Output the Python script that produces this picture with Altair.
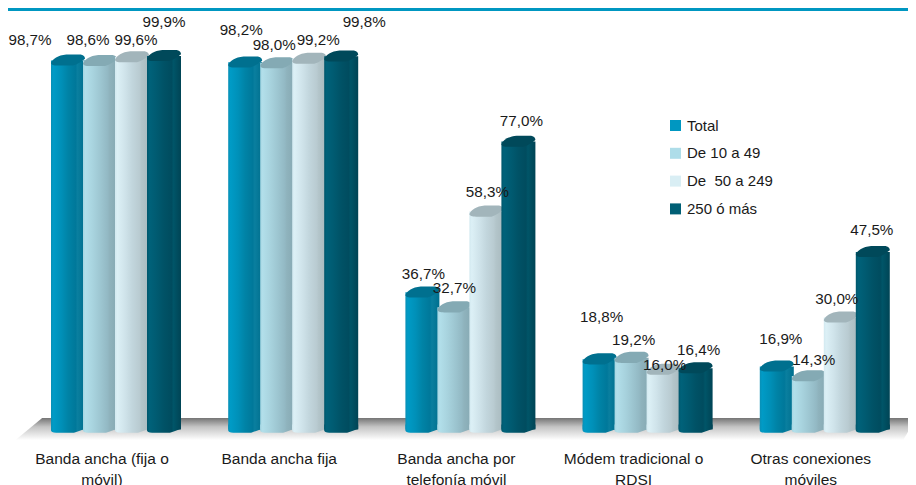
import altair as alt
import pandas as pd

categories = ["Banda ancha (fija o móvil)", "Banda ancha fija", "Banda ancha por telefonía móvil",
              "Módem tradicional o RDSI", "Otras conexiones móviles"]
cat_line1 = ["Banda ancha (fija o", "Banda ancha fija", "Banda ancha por", "Módem tradicional o", "Otras conexiones"]
cat_line2 = ["móvil)", "", "telefonía móvil", "RDSI", "móviles"]
series = ["Total", "De 10 a 49", "De \u00a050 a 249", "250 ó más"]
v_total = [98.7, 98.2, 36.7, 18.8, 16.9]
v_small = [98.6, 98.0, 32.7, 19.2, 14.3]
v_mid = [99.6, 99.2, 58.3, 16.0, 30.0]
v_big = [99.9, 99.8, 77.0, 16.4, 47.5]
values = [v_total, v_small, v_mid, v_big]

# label displacement from the top-centre of each bar, in px (right, up)
label_dx = [[-38, -12, 4, 0], [-4, -3, 9, 23], [1, 0, 1, 3], [2, 2, 1, 3], [4, 5, -4, -1]]
label_dy = [[20, 21, 17, 34], [32, 18, 19, 34], [18, 19, 20, 21], [42, 18, 5, 18], [27, 16, 18, 22]]

PX_X = 177.2       # px per category
PX_Y = 3.74        # px per percentage point
SLOT = 32 / PX_X
BARW = 34 / PX_X
X_DOMAIN = [-43 / PX_X, (900 - 43) / PX_X]
Y_DOMAIN = [-(477 - 421.6) / PX_Y, 421.6 / PX_Y]

x_scale = alt.Scale(domain=X_DOMAIN, nice=False, zero=False)
y_scale = alt.Scale(domain=Y_DOMAIN, nice=False, zero=False)
X = lambda f="x": alt.X(f"{f}:Q", scale=x_scale, axis=None)
Y = lambda f="y": alt.Y(f"{f}:Q", scale=y_scale, axis=None)

solid = ["#0097c1", "#aedde9", "#d9eef4", "#005f75"]
cap_col = ["#00708f", "#84aab4", "#a2b5bb", "#00495a"]
ramps = [
    ["#0a8fb5", "#009bc6", "#0090b8", "#0083a6", "#00789a", "#0a7f9f", "#006f8e"],
    ["#a6d6e2", "#b2dfea", "#a8d3de", "#9ec7d2", "#93b9c4", "#8fb3bd", "#86a9b3"],
    ["#d2e9f0", "#dcf0f6", "#cfe3ea", "#c2d6dd", "#b9cbd1", "#b3c5ca", "#a9babf"],
    ["#00566b", "#00627a", "#005a70", "#005266", "#004c5f", "#005568", "#004455"],
]


def grad(cols):
    pos = [0, 0.07, 0.3, 0.5, 0.72, 0.78, 1]
    return alt.Gradient(gradient="linear", x1=0, x2=1, y1=0, y2=0,
                        stops=[alt.GradientStop(offset=p, color=c) for p, c in zip(pos, cols)])


CAP = ("M-1,0.15 C-0.9,-0.1 -0.6,-0.3 -0.1,-0.35 L0.75,-0.35 C0.95,-0.3 1,-0.2 1,-0.1 "
       "C0.8,0.05 0.6,0.2 0.3,0.3 L-0.6,0.3 C-0.85,0.3 -1,0.25 -1,0.15 Z")
BOTTOM = "M-1,-0.3 L1,-0.3 L1,-0.05 C0.8,0.02 0.6,0.1 0.35,0.18 L-0.7,0.18 C-0.9,0.18 -1,0.12 -1,0.05 Z"

layers = []

floor = pd.DataFrame({"y": [3.1, -2.8], "x": [-0.05, -0.2], "x2": [4.88, 4.81]})
layers.append(alt.Chart(floor).mark_area(
    orient="horizontal",
    color=alt.Gradient(gradient="linear", x1=0, x2=0, y1=0, y2=1, stops=[
        alt.GradientStop(offset=0, color="#757575"),
        alt.GradientStop(offset=0.4, color="#c4c4c4"),
        alt.GradientStop(offset=1, color="#ffffff")])
).encode(y=Y(), x=X(), x2="x2:Q"))

rows = []
for g, cat in enumerate(categories):
    for s, name in enumerate(series):
        left = g + s * SLOT
        rows.append({"cat": cat, "series": name, "s": s, "v": values[s][g], "zero": 0.0,
                     "x": left, "x2": left + BARW, "xc": left + BARW / 2,
                     "bx": left + BARW / 2 + label_dx[g][s] / PX_X,
                     "by": values[s][g] + label_dy[g][s] / PX_Y,
                     "label": f"{values[s][g]:.1f}%".replace(".", ",")})
df = pd.DataFrame(rows)

for s, name in enumerate(series):
    d = df[df["s"] == s]
    base = alt.Chart(d)
    layers.append(base.mark_bar(color=grad(ramps[s])).encode(x=X(), x2="x2:Q", y=Y("zero"), y2="v:Q"))
    layers.append(base.mark_point(shape=BOTTOM, size=34 ** 2, filled=True, opacity=1, color=grad(ramps[s]), strokeWidth=0)
                  .encode(x=X("xc"), y=Y("zero")))
    layers.append(base.mark_point(shape=CAP, size=34 ** 2, filled=True, opacity=1, color=cap_col[s], strokeWidth=0)
                  .encode(x=X("xc"), y=Y("v")))

layers.append(alt.Chart(df).mark_text(font="Liberation Sans", fontSize=15.2, color="#1a1a1a", baseline="middle")
              .encode(x=X("bx"), y=Y("by"), text="label:N"))

cats = pd.DataFrame({"x": [g + 51 / PX_X for g in range(5)], "l1": cat_line1, "l2": cat_line2,
                     "y1": [-7.9] * 5, "y2": [-13.6] * 5})
for line, ypos in (("l1", "y1"), ("l2", "y2")):
    layers.append(alt.Chart(cats).mark_text(font="Liberation Sans", fontSize=15.5, color="#1a1a1a", baseline="middle")
                  .encode(x=X(), y=Y(ypos), text=f"{line}:N"))

legend_df = pd.DataFrame({"series": series, "x": [0.0] * 4, "y": [0.0] * 4})
layers.append(alt.Chart(legend_df).mark_square(size=0, opacity=0).encode(
    x=X(), y=Y(),
    color=alt.Color("series:N", scale=alt.Scale(domain=series, range=solid), sort=series,
                    legend=alt.Legend(title=None, orient="none", legendX=660, legendY=110,
                                      symbolType="square", symbolSize=121, symbolOpacity=1, rowPadding=11.8,
                                      labelFont="Liberation Sans", labelFontSize=15, labelColor="#1a1a1a",
                                      symbolStrokeWidth=0))))

layers.append(alt.Chart(pd.DataFrame({"k": [0]})).mark_rule(color="#0097c1", strokeWidth=3).encode(
    x=alt.value(0), x2=alt.value(900), y=alt.value(1.5)))

chart = alt.layer(*layers).resolve_scale(x="shared", y="shared").properties(
    width=900, height=477, autosize="none", padding=0, background="white"
).configure_view(stroke=None)

chart.save("out.html", embed_options={"renderer": "svg", "actions": False})
